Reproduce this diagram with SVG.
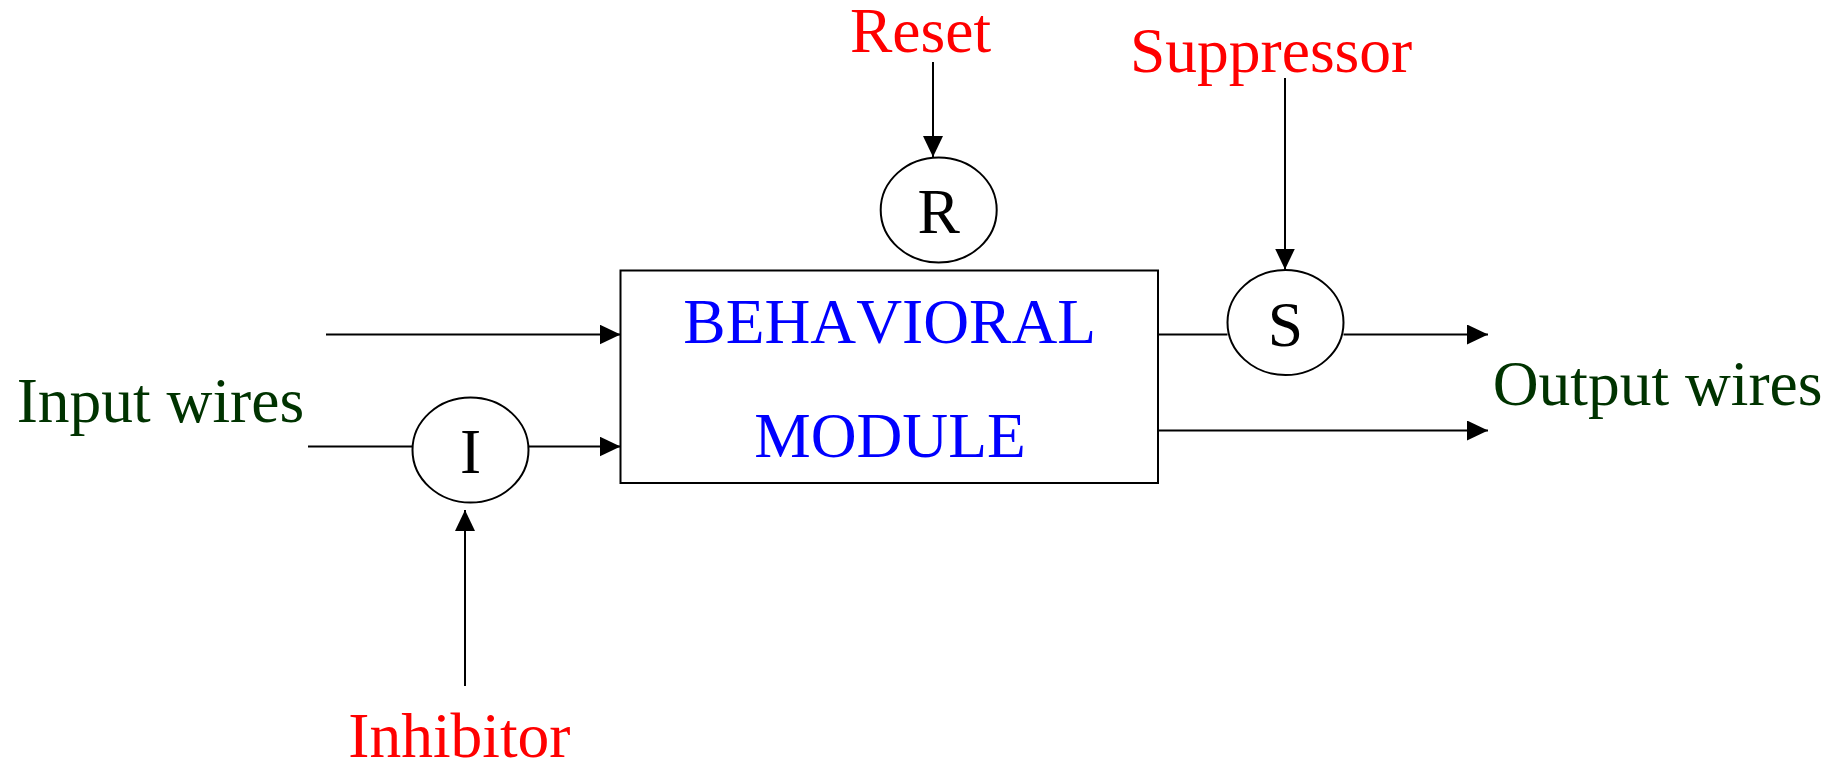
<svg xmlns="http://www.w3.org/2000/svg" width="1838" height="762" viewBox="0 0 1838 762">
  <style>
    text { font-family: "Liberation Serif", "Times New Roman", serif; font-size: 63.5px; font-kerning: none; }
    .ctl { fill: #ff0000; }
    .wire { fill: #003300; }
    .mod { fill: #0000ff; text-anchor: middle; }
    .sym { fill: #000000; text-anchor: middle; }
    .shape { fill: #ffffff; stroke: #000000; stroke-width: 2; }
    .line { fill: none; stroke: #000000; stroke-width: 2; }
  </style>
  <defs>
    <marker id="arrow" markerUnits="userSpaceOnUse" markerWidth="22" markerHeight="20" refX="21" refY="10" orient="auto">
      <path d="M0,0 L21,10 L0,20 Z" fill="#000000"/>
    </marker>
  </defs>

  <rect width="1838" height="762" fill="#ffffff"/>

  <!-- connectors -->
  <g id="connectors" class="line">
    <line x1="326" y1="334.5" x2="620.5" y2="334.5" marker-end="url(#arrow)"/>
    <line x1="308" y1="446.5" x2="412.5" y2="446.5"/>
    <line x1="528.5" y1="446.5" x2="620.5" y2="446.5" marker-end="url(#arrow)"/>
    <line x1="465" y1="686" x2="465" y2="510" marker-end="url(#arrow)"/>
    <line x1="933" y1="62" x2="933" y2="157" marker-end="url(#arrow)"/>
    <line x1="1285" y1="78" x2="1285" y2="269.5" marker-end="url(#arrow)"/>
    <line x1="1158" y1="334.5" x2="1227.5" y2="334.5"/>
    <line x1="1343.5" y1="334.5" x2="1488" y2="334.5" marker-end="url(#arrow)"/>
    <line x1="1158" y1="430.5" x2="1488" y2="430.5" marker-end="url(#arrow)"/>
  </g>

  <!-- behavioral module -->
  <g id="module">
    <rect class="shape" x="620.5" y="270.5" width="537.5" height="212.5"/>
    <text class="mod" x="889.7" y="342.7">BEHAVIORAL</text>
    <text class="mod" x="890" y="456.7">MODULE</text>
  </g>

  <!-- inhibitor node -->
  <g id="node-inhibitor">
    <ellipse class="shape" cx="470.5" cy="450" rx="58" ry="52.5"/>
    <text class="sym" x="470.5" y="473.3">I</text>
  </g>

  <!-- reset node -->
  <g id="node-reset">
    <ellipse class="shape" cx="938.7" cy="210" rx="58" ry="52.5"/>
    <text class="sym" x="938.6" y="233.3">R</text>
  </g>

  <!-- suppressor node -->
  <g id="node-suppressor">
    <ellipse class="shape" cx="1285.5" cy="322.5" rx="58" ry="52.5"/>
    <text class="sym" x="1285.3" y="346">S</text>
  </g>

  <!-- labels -->
  <g id="label-input">
    <text class="wire" x="16.7" y="422">Input wires</text>
  </g>
  <g id="label-output">
    <text class="wire" x="1492.7" y="405">Output wires</text>
  </g>
  <g id="label-inhibitor">
    <text class="ctl" x="348.3" y="757.3">Inhibitor</text>
  </g>
  <g id="label-reset">
    <text class="ctl" x="850" y="52.3">Reset</text>
  </g>
  <g id="label-suppressor">
    <text class="ctl" x="1130" y="71.7">Suppressor</text>
  </g>
</svg>
